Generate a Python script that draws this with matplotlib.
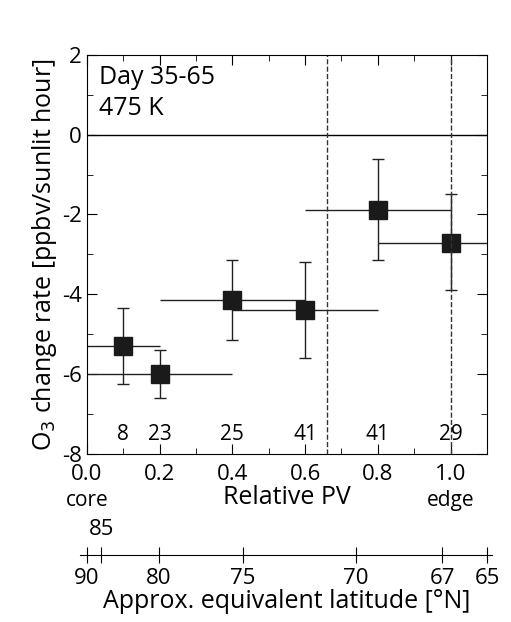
import matplotlib
matplotlib.use('Agg')
import matplotlib.pyplot as plt

pv = [0.1, 0.2, 0.4, 0.6, 0.8, 1.0]
rate = [-5.3, -6.0, -4.15, -4.4, -1.88, -2.72]
pv_lo = [0.0, 0.0, 0.2, 0.4, 0.6, 0.8]
pv_hi = [0.2, 0.4, 0.6, 0.8, 1.0, 1.2]
rate_lo = [-6.25, -6.6, -5.15, -5.6, -3.15, -3.9]
rate_hi = [-4.35, -5.4, -3.15, -3.2, -0.6, -1.5]
counts = ['8', '23', '25', '41', '41', '29']
count_x = [0.1, 0.2, 0.4, 0.6, 0.8, 1.0]
lat_labels = ['90', '', '80', '75', '70', '67', '65']
lat_pos = [0.0, 0.04, 0.2, 0.435, 0.75, 0.99, 1.115]

plt.rcParams['font.family'] = 'Open Sans'
plt.rcParams['axes.unicode_minus'] = False
fig = plt.figure(figsize=(5.11, 6.22), dpi=100)
ax = fig.add_axes([0.17, 0.27, 0.783, 0.642])

xerr = [[p - l for p, l in zip(pv, pv_lo)], [h - p for p, h in zip(pv, pv_hi)]]
yerr = [[r - l for r, l in zip(rate, rate_lo)], [h - r for r, h in zip(rate, rate_hi)]]
ax.errorbar(pv, rate, xerr=xerr, fmt='none', ecolor='#222222', elinewidth=1, capsize=0)
ax.errorbar(pv, rate, yerr=yerr, fmt='none', ecolor='#222222', elinewidth=1, capsize=4)
ax.plot(pv, rate, 's', color='#1a1a1a', markersize=13)
ax.axhline(0, color='black', lw=1)
ax.axvline(0.66, color='#333333', lw=1, ls='--')
ax.axvline(1.0, color='#333333', lw=1, ls='--')
for x, c in zip(count_x, counts):
    ax.text(x, -7.5, c, ha='center', va='center', fontsize=15)

ax.set_xlim(0, 1.1)
ax.set_ylim(-8, 2)
ax.set_xticks([0, 0.2, 0.4, 0.6, 0.8, 1.0])
ax.set_xticklabels(['0.0', '0.2', '0.4', '0.6', '0.8', '1.0'])
ax.set_xticks([0.1, 0.3, 0.5, 0.7, 0.9, 1.1], minor=True)
ax.set_yticks([-8, -6, -4, -2, 0, 2])
ax.set_yticks([-7, -5, -3, -1, 1], minor=True)
ax.tick_params(which='both', direction='in', top=True, right=True, labelsize=16)
ax.tick_params(which='major', length=7)
ax.tick_params(which='minor', length=4)
ax.tick_params(axis='x', pad=7)
ax.set_ylabel('O$_3$ change rate [ppbv/sunlit hour]', fontsize=18, labelpad=2)
ax.set_xlabel('Relative PV', fontsize=18, labelpad=0)
ax.text(0.0, -0.09, 'core', transform=ax.transAxes, ha='center', va='top', fontsize=15)
ax.text(0.909, -0.09, 'edge', transform=ax.transAxes, ha='center', va='top', fontsize=15)
ax.text(0.03, 0.975, 'Day 35-65\n475 K', transform=ax.transAxes, ha='left', va='top',
        fontsize=18, linespacing=1.35)

ax2 = fig.add_axes([0.17, 0.108, 0.783, 0.0])
ax2.set_xlim(0, 1.1)
for s in ['top', 'left', 'right']:
    ax2.spines[s].set_visible(False)
ax2.spines['bottom'].set_bounds(-0.02, 1.13)
ax2.set_yticks([])
ax2.set_xticks(lat_pos)
ax2.set_xticklabels(lat_labels)
ax2.tick_params(direction='inout', length=12, labelsize=16)
ax2.set_xlabel('Approx. equivalent latitude [°N]', fontsize=18, labelpad=0)
fig.text(0.17 + 0.783 * 0.04 / 1.1, 0.148, '85', ha='center', va='center', fontsize=16)

fig.savefig('out.png', dpi=100)
